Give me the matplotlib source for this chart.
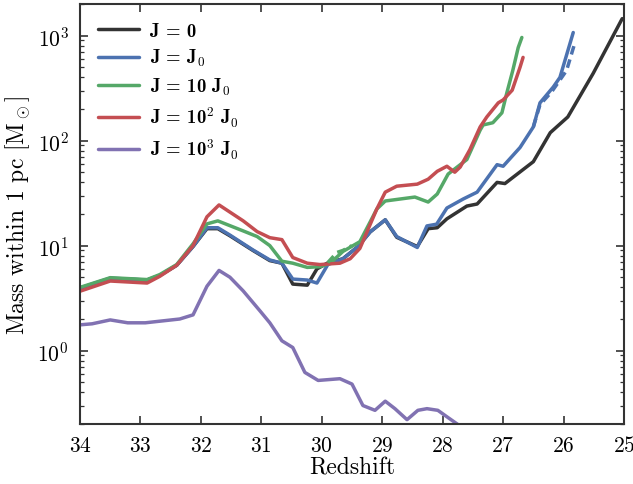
import matplotlib
matplotlib.use('Agg')
import matplotlib.pyplot as plt
import numpy as np

plt.rcParams['font.family'] = 'cmr10'
plt.rcParams['mathtext.fontset'] = 'cm'
plt.rcParams['axes.formatter.use_mathtext'] = True

# mass within 1 pc vs redshift, one run per LW background
z_j0 = [34.0, 33.5, 32.89, 32.68, 32.4, 32.13, 31.9, 31.72, 31.52, 31.14, 30.86, 30.66,
        30.48, 30.24, 30.08, 29.91, 29.65, 29.4, 29.2, 28.95, 28.76, 28.42, 28.24, 28.09,
        27.93, 27.6, 27.43, 27.1, 26.97, 26.5, 26.22, 25.93, 25.51, 25.03]
m_j0 = [3.9, 4.85, 4.7, 5.2, 6.5, 9.8, 14.5, 14.5, 12.4, 9.0, 7.2, 6.8,
        4.3, 4.2, 6.0, 6.8, 7.5, 9.8, 13.5, 17.6, 12.0, 9.8, 14.5, 14.8,
        18.0, 23.8, 24.9, 40.0, 39.0, 63.0, 119.0, 168.0, 437.0, 1450.0]

z_j1 = [34.0, 33.5, 32.89, 32.68, 32.4, 32.13, 31.9, 31.72, 31.52, 31.14, 30.86, 30.66,
        30.48, 30.24, 30.08, 29.9, 29.65, 29.4, 29.2, 28.95, 28.76, 28.42, 28.26, 28.1,
        27.93, 27.66, 27.43, 27.1, 27.0, 26.72, 26.5, 26.39, 26.17, 26.06, 25.84]
m_j1 = [3.95, 4.9, 4.7, 5.2, 6.5, 9.8, 14.8, 14.8, 12.6, 9.1, 7.3, 6.8,
        4.8, 4.7, 4.4, 6.6, 7.5, 9.8, 13.5, 17.6, 12.2, 9.6, 15.4, 16.0,
        22.8, 27.8, 32.3, 59.0, 57.0, 86.0, 135.0, 229.0, 324.0, 400.0, 1070.0]

z_j10 = [34.0, 33.5, 32.89, 32.68, 32.4, 32.13, 31.9, 31.72, 31.3, 31.07, 30.86, 30.66,
         30.48, 30.24, 30.03, 29.86, 29.65, 29.37, 29.2, 29.09, 28.95, 28.46, 28.24, 28.09,
         27.91, 27.76, 27.6, 27.38, 27.33, 27.17, 27.02, 26.94, 26.84, 26.75, 26.69]
m_j10 = [4.0, 4.95, 4.75, 5.3, 6.6, 10.4, 16.1, 17.2, 13.8, 12.2, 10.0, 7.1,
         6.8, 6.2, 6.3, 6.8, 8.8, 10.9, 16.8, 22.3, 26.6, 29.0, 26.0, 31.0,
         48.0, 56.0, 66.0, 126.0, 141.0, 148.0, 184.0, 283.0, 466.0, 770.0, 960.0]

z_j100 = [34.0, 33.5, 32.89, 32.68, 32.4, 32.13, 31.9, 31.7, 31.3, 31.07, 30.86, 30.66,
          30.48, 30.24, 30.03, 29.7, 29.53, 29.37, 29.25, 29.09, 28.95, 28.76, 28.42, 28.24,
          28.09, 27.93, 27.8, 27.71, 27.55, 27.38, 27.27, 27.08, 27.0, 26.85, 26.72, 26.67]
m_j100 = [3.68, 4.6, 4.4, 5.1, 6.5, 10.0, 18.8, 24.4, 17.2, 13.6, 11.9, 11.4,
          7.7, 6.8, 6.6, 6.8, 7.5, 9.4, 13.6, 22.3, 32.3, 36.8, 38.5, 42.9,
          51.0, 57.0, 50.0, 56.0, 82.0, 135.0, 168.0, 229.0, 244.0, 302.0, 500.0, 620.0]

z_j1000 = [34.0, 33.8, 33.5, 33.21, 32.92, 32.63, 32.35, 32.13, 31.9, 31.7, 31.52, 31.3,
           31.02, 30.86, 30.66, 30.48, 30.28, 30.06, 29.7, 29.5, 29.32, 29.12, 28.95, 28.79,
           28.59, 28.41, 28.26, 28.08, 27.91, 27.76, 27.6]
m_j1000 = [1.76, 1.8, 1.96, 1.84, 1.84, 1.92, 2.0, 2.19, 4.1, 5.8, 5.0, 3.7,
           2.38, 1.84, 1.24, 1.07, 0.62, 0.52, 0.54, 0.48, 0.30, 0.27, 0.33, 0.28,
           0.22, 0.27, 0.28, 0.27, 0.23, 0.20, 0.17]

# lower resolution J0 run, splits off at the end
z_j1_lo = [26.5, 26.39, 26.2, 26.1, 25.95, 25.81]
m_j1_lo = [135.0, 220.0, 290.0, 350.0, 466.0, 865.0]

# lower resolution J10 run, short pieces that show off the main curve
z_j10_lo = [29.9, 29.75, 29.65, 29.5]
m_j10_lo = [6.9, 8.6, 9.0, 10.0]

colors = ['#333333', '#4C72B0', '#55A868', '#C44E52', '#8172B2']
labels = ['J = 0', r'J = J$_0$', r'J = 10 J$_0$', r'J = 10$^2$ J$_0$', r'J = 10$^3$ J$_0$']
runs = [(z_j0, m_j0), (z_j1, m_j1), (z_j10, m_j10), (z_j100, m_j100), (z_j1000, m_j1000)]

fig = plt.figure(figsize=(6.33, 4.85), dpi=100)
ax = fig.add_axes([0.1264, 0.1237, 0.8594, 0.8660])

for (z, m), c, lab in zip(runs, colors, labels):
    ax.plot(z, m, color=c, lw=2.5, label=lab, solid_capstyle='round')

ax.plot(z_j1_lo, m_j1_lo, color=colors[1], lw=2.5, ls='--', dashes=(2.5, 1.5))
ax.plot(z_j10_lo, m_j10_lo, color=colors[2], lw=2.5, ls='--', dashes=(2.5, 1.5))

ax.set_yscale('log')
ax.set_xlim(34, 25)
ax.set_ylim(0.2, 2000)
ax.set_xticks(np.arange(34, 24, -1))

ax.set_xlabel('Redshift', fontsize=17, labelpad=1)
ax.set_ylabel(r'Mass within 1 pc [M$_\odot$]', fontsize=17, labelpad=4)

for sp in ax.spines.values():
    sp.set_color('#333333')
    sp.set_linewidth(1.5)
ax.tick_params(which='both', direction='in', top=True, right=True, color='#333333')
ax.tick_params(which='major', length=6, width=1.2, labelsize=15.5, pad=8)
ax.tick_params(which='minor', length=3, width=0.9)

leg = ax.legend(loc='upper left', frameon=False, handlelength=2.2, handletextpad=0.6,
                labelspacing=0.4, borderaxespad=0.5, borderpad=0.45,
                prop={'family': 'cmb10', 'size': 13.5})

fig.savefig('out.png', dpi=100)
